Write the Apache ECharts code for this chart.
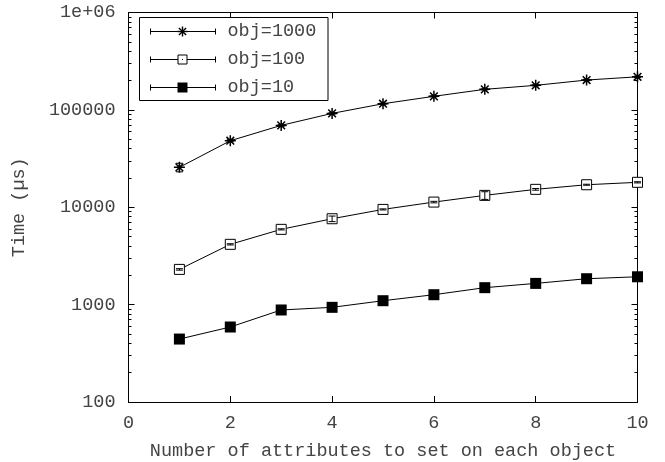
<!DOCTYPE html>
<html>
<head>
<meta charset="utf-8">
<script src="https://cdn.jsdelivr.net/npm/echarts@6/dist/echarts.min.js"></script>
<style>html,body{margin:0;padding:0;background:#fff}#c{width:665px;height:462px}</style>
</head>
<body>
<div id="c"></div>
<script>
// ---- data ----
var xValues = [1, 2, 3, 4, 5, 6, 7, 8, 9, 10];
var obj1000 = [25700, 48200, 69300, 92000, 115600, 137800, 162600, 178600, 202500, 218700];
var obj1000Err = [2600, 1200, 1200, 1500, 1500, 2000, 2500, 2500, 3000, 3000];
var obj100 = [2300, 4160, 5930, 7620, 9500, 11300, 13240, 15270, 17030, 18030];
var obj100Err = [40, 60, 80, 500, 120, 200, 1200, 300, 200, 250];
var obj10 = [443, 589, 881, 938, 1097, 1264, 1493, 1652, 1845, 1932];
var obj10Err = [8, 10, 15, 15, 20, 20, 25, 25, 30, 30];
var seriesNames = ['obj=1000', 'obj=100', 'obj=10'];
var yMajorTicks = [100, 1000, 10000, 100000, 1000000];
var xTicks = [0, 2, 4, 6, 8, 10];

var FONT = 'Liberation Mono';
var TXT = '#444';
var FS = 18.5;

var yMinorTicks = [];
for (var d = 100; d < 1000000; d *= 10) {
  for (var m = 2; m <= 9; m++) yMinorTicks.push(d * m);
}

function pairs(ys) { return xValues.map(function (x, i) { return [x, ys[i]]; }); }
function errData(ys, es) { return xValues.map(function (x, i) { return [x, ys[i] - es[i], ys[i] + es[i]]; }); }

var starPath = 'path://M5,0L5,10M0,5L10,5M1.5,1.5L8.5,8.5M1.5,8.5L8.5,1.5';

function errRender(params, api) {
  var x = api.value(0);
  var lo = api.coord([x, api.value(1)]);
  var hi = api.coord([x, api.value(2)]);
  var w = 3.5;
  var st = { stroke: '#000', lineWidth: 1 };
  return {
    type: 'group',
    children: [
      { type: 'line', shape: { x1: lo[0], y1: lo[1], x2: hi[0], y2: hi[1] }, style: st },
      { type: 'line', shape: { x1: lo[0] - w, y1: lo[1], x2: lo[0] + w, y2: lo[1] }, style: st },
      { type: 'line', shape: { x1: hi[0] - w, y1: hi[1], x2: hi[0] + w, y2: hi[1] }, style: st }
    ]
  };
}

var gridLeft = 128.5, gridTop = 12.5, gridRight = 27.5, gridBottom = 60;

function yAxisBase(pos, ticks, len, showLabel) {
  return {
    type: 'log', logBase: 10, min: 100, max: 1000000, position: pos,
    axisLine: { show: true, lineStyle: { color: '#000', width: 1 } },
    axisTick: { show: true, inside: true, length: len, customValues: ticks, lineStyle: { color: '#000', width: 1 } },
    axisLabel: showLabel ? {
      show: true, customValues: yMajorTicks, margin: 13, fontFamily: FONT, fontSize: FS, color: TXT,
      formatter: function (v) { return v >= 1000000 ? '1e+06' : String(Math.round(v)); }
    } : { show: false },
    splitLine: { show: false }
  };
}

function seg(x1, y1, x2, y2, z, w) {
  return { type: 'line', shape: { x1: x1, y1: y1, x2: x2, y2: y2 }, style: { stroke: '#000', lineWidth: w || 1 }, z: z || 101 };
}

var legendGraphics = [];
var lx0 = 139.5, ly0 = 17.5, lw = 188.5, lh = 83;
legendGraphics.push({ type: 'rect', shape: { x: lx0, y: ly0, width: lw, height: lh }, style: { fill: '#fff', stroke: '#000', lineWidth: 1 }, z: 100 });
var rowYs = [31.5, 59.5, 87.5];
seriesNames.forEach(function (name, i) {
  var y = rowYs[i];
  legendGraphics.push(seg(150.5, y, 215.5, y));
  legendGraphics.push(seg(150.5, y - 3, 150.5, y + 3));
  legendGraphics.push(seg(215.5, y - 3, 215.5, y + 3));
  var mx = 182.5;
  if (i === 0) {
    legendGraphics.push(seg(mx, y - 5, mx, y + 5, 102, 1.4));
    legendGraphics.push(seg(mx - 5, y, mx + 5, y, 102, 1.4));
    legendGraphics.push(seg(mx - 3.6, y - 3.6, mx + 3.6, y + 3.6, 102, 1.4));
    legendGraphics.push(seg(mx - 3.6, y + 3.6, mx + 3.6, y - 3.6, 102, 1.4));
  } else if (i === 1) {
    legendGraphics.push({ type: 'rect', shape: { x: mx - 4.5, y: y - 4.5, width: 9, height: 9 }, style: { fill: '#fff', stroke: '#000', lineWidth: 1 }, z: 102 });
    legendGraphics.push(seg(mx - 0.5, y, mx + 0.5, y, 103));
  } else {
    legendGraphics.push({ type: 'rect', shape: { x: mx - 5, y: y - 5, width: 10, height: 10 }, style: { fill: '#000' }, z: 102 });
  }
  legendGraphics.push({ type: 'text', x: 227.5, y: y, style: { text: name, fontFamily: FONT, fontSize: FS, fill: TXT, verticalAlign: 'middle', align: 'left' }, z: 102 });
});

var chart = echarts.init(document.getElementById('c'), null, { renderer: 'canvas' });
chart.setOption({
  animation: false,
  backgroundColor: '#fff',
  grid: { left: gridLeft, top: gridTop, right: gridRight, bottom: gridBottom, containLabel: false, outerBoundsMode: 'none' },
  xAxis: [
    {
      type: 'value', min: 0, max: 10, interval: 2, position: 'bottom',
      name: 'Number of attributes to set on each object', nameLocation: 'middle', nameGap: 40,
      nameTextStyle: { fontFamily: FONT, fontSize: FS, color: TXT },
      axisLine: { show: true, onZero: false, lineStyle: { color: '#000', width: 1 } },
      axisTick: { show: true, inside: true, length: 6, lineStyle: { color: '#000' } },
      axisLabel: { show: true, margin: 12, fontFamily: FONT, fontSize: FS, color: TXT, customValues: xTicks },
      splitLine: { show: false }
    },
    {
      type: 'value', min: 0, max: 10, interval: 2, position: 'top',
      axisLine: { show: true, onZero: false, lineStyle: { color: '#000', width: 1 } },
      axisTick: { show: true, inside: true, length: 6, lineStyle: { color: '#000' } },
      axisLabel: { show: false }, splitLine: { show: false }
    }
  ],
  yAxis: [
    Object.assign(yAxisBase('left', yMajorTicks, 6, true), {
      name: 'Time (µs)', nameLocation: 'middle', nameGap: 100, nameRotate: 90,
      nameTextStyle: { fontFamily: FONT, fontSize: FS, color: TXT }
    }),
    yAxisBase('left', yMinorTicks, 3, false),
    yAxisBase('right', yMajorTicks, 6, false),
    yAxisBase('right', yMinorTicks, 3, false)
  ],
  series: [
    { name: seriesNames[0], type: 'line', data: pairs(obj1000), symbol: starPath, symbolSize: 11,
      lineStyle: { color: '#000', width: 1 }, itemStyle: { color: 'rgba(0,0,0,0)', borderColor: '#000', borderWidth: 1.5 }, z: 3 },
    { name: seriesNames[1], type: 'line', data: pairs(obj100), symbol: 'rect', symbolSize: 10,
      lineStyle: { color: '#000', width: 1 }, itemStyle: { color: '#fff', borderColor: '#000', borderWidth: 1 }, z: 3 },
    { name: seriesNames[2], type: 'line', data: pairs(obj10), symbol: 'rect', symbolSize: 11,
      lineStyle: { color: '#000', width: 1 }, itemStyle: { color: '#000', borderColor: '#000', borderWidth: 0 }, z: 3 },
    { type: 'custom', renderItem: errRender, data: errData(obj1000, obj1000Err), encode: { x: 0, y: [1, 2] }, z: 5, silent: true },
    { type: 'custom', renderItem: errRender, data: errData(obj100, obj100Err), encode: { x: 0, y: [1, 2] }, z: 5, silent: true },
    { type: 'custom', renderItem: errRender, data: errData(obj10, obj10Err), encode: { x: 0, y: [1, 2] }, z: 5, silent: true }
  ],
  graphic: legendGraphics
});
</script>
</body>
</html>
